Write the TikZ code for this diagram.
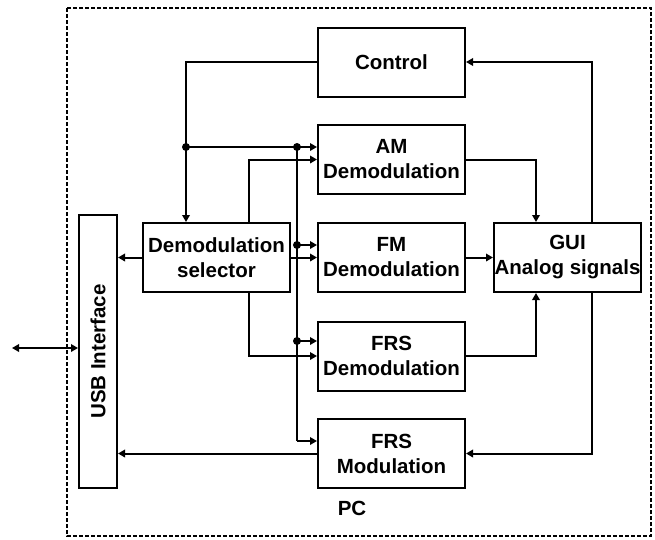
\documentclass[tikz,border=0pt]{standalone}
\usepackage{fontspec}
\setmainfont{Liberation Sans}
\usetikzlibrary{arrows.meta}
\begin{document}
\begin{tikzpicture}[x=1pt,y=-1pt,
  txt/.style={font=\bfseries\fontsize{20.5pt}{25pt}\selectfont},
  blk/.style={draw,line width=2pt,minimum width=147pt,minimum height=69pt,inner sep=0pt,align=center,txt},
  conn/.style={line width=2pt,-{Triangle[length=7pt,width=7.5pt]}},
  wire/.style={line width=2pt},
  jdot/.style={fill,circle,inner sep=0pt,minimum size=8pt}]
\useasboundingbox (0,0) rectangle (655,539);
\draw[line width=1.1pt,dash pattern=on 4pt off 2pt] (67,8) rectangle (651,536);
\node[blk] (ctrl) at (391.5,62) {Control};
\node[blk] (am) at (391.5,159.5) {AM\\Demodulation};
\node[blk] (fm) at (391.5,257.5) {FM\\Demodulation};
\node[blk] (frsd) at (391.5,356) {FRS\\Demodulation};
\node[blk] (frsm) at (391.5,453.5) {FRS\\Modulation};
\node[blk] (sel) at (216.5,257.5) {Demodulation\\selector};
\node[blk] (gui) at (567.5,257.5) {GUI\\Analog signals};
\node[draw,line width=2pt,minimum width=38pt,minimum height=273pt,inner sep=0pt] (usb) at (98,351.5) {};
\node[rotate=90,txt] (usbt) at (usb.center) {USB Interface};
\node[txt] (pc) at (352,508) {PC};
\coordinate (ext) at (12,348);
% junctions
\coordinate (j1) at (186,147);
\coordinate (j2) at (297,147);
\coordinate (j3) at (297,245);
\coordinate (j4) at (297,341);
\coordinate (j5) at (297,441);
% control to selector
\draw[conn] (ctrl.west) -| (sel.north -| j1);
\draw[conn] (j1) -- (j1 -| am.west);
\draw[wire] (j2) -- (j5);
\draw[conn] (j5) -- (j5 -| frsm.west);
\draw[conn] (j3) -- (j3 -| fm.west);
\draw[conn] (j4) -- (j4 -| frsd.west);
\draw[conn] (sel.north -| 249,0) |- (am.west);
\draw[conn] (sel.east) -- (fm.west);
\draw[conn] (sel.south -| 249,0) |- (frsd.west);
\draw[conn] (sel.west) -- (sel.west -| usb.east);
\draw[conn] (frsm.west) -- (frsm.west -| usb.east);
\draw[line width=2pt,{Triangle[length=7pt,width=7.5pt]}-{Triangle[length=7pt,width=7.5pt]}] (ext) -- (ext -| usb.west);
\draw[conn] (am.east) -| (gui.north -| 536,0);
\draw[conn] (fm.east) -- (gui.west);
\draw[conn] (frsd.east) -| (gui.south -| 536,0);
\draw[conn] (gui.north -| 592,0) |- (ctrl.east);
\draw[conn] (gui.south -| 592,0) |- (frsm.east);
\foreach \j in {j1,j2,j3,j4} \node[jdot] at (\j) {};
\end{tikzpicture}
\end{document}
